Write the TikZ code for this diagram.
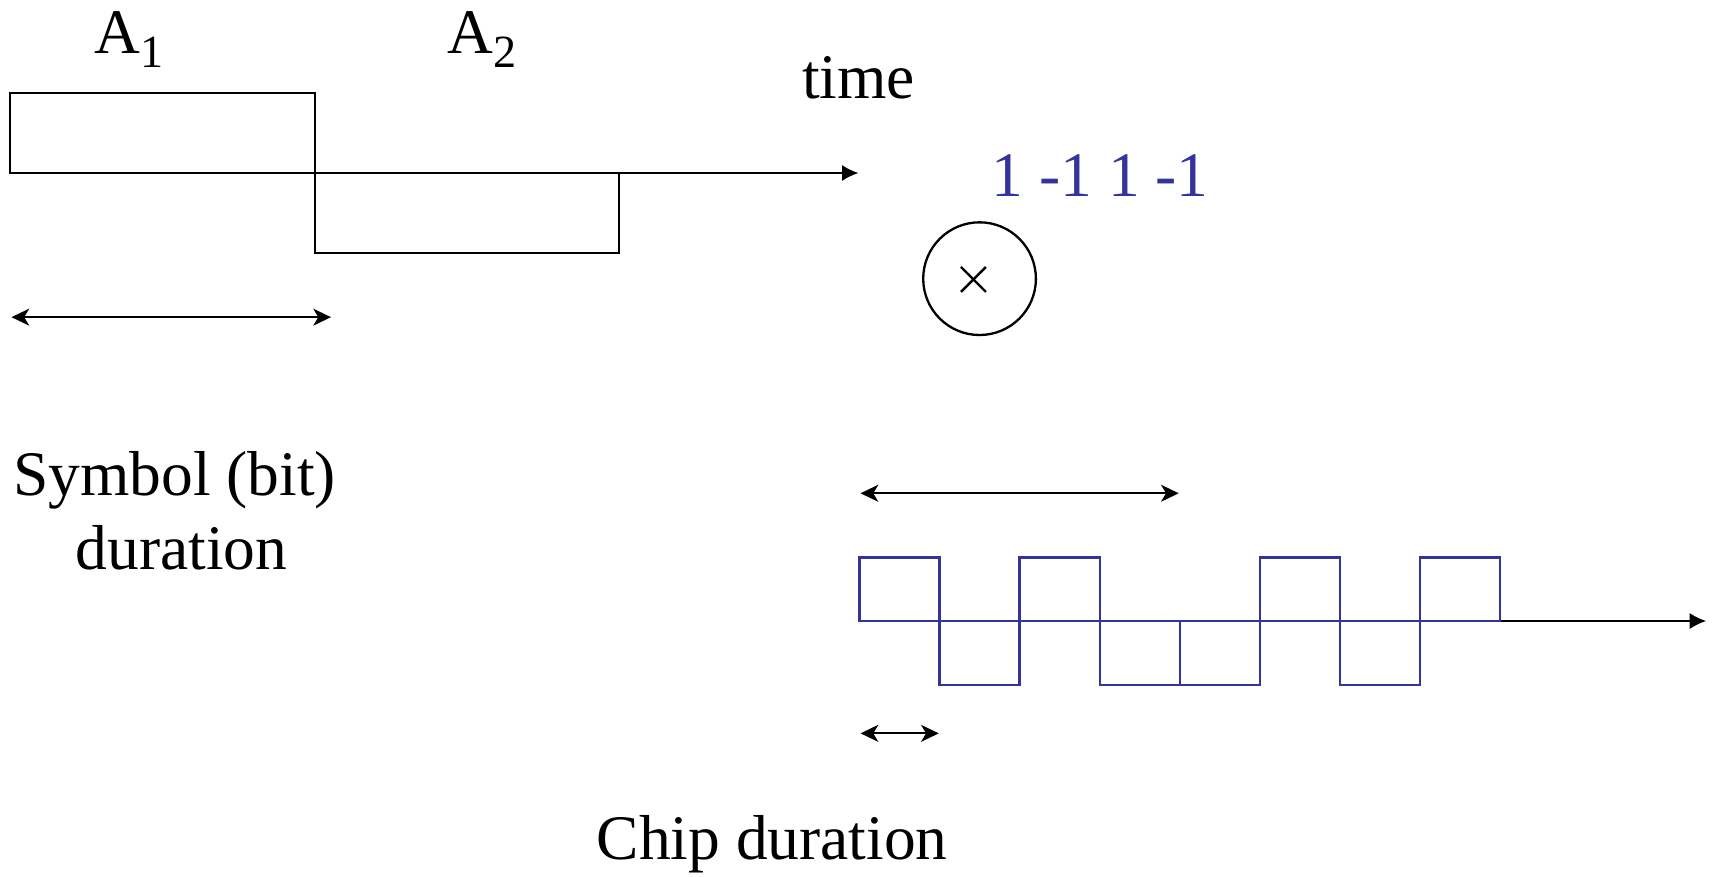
\documentclass[tikz,border=0pt]{standalone}
\usepackage{fontspec}
\setmainfont{Liberation Serif}
\usetikzlibrary{arrows.meta,calc}
\definecolor{chipblue}{RGB}{51,51,153}
\newcommand{\lowsub}[1]{\raisebox{-3.7pt}{\fontsize{12}{12}\selectfont #1}}
\tikzset{
  sig/.style={line width=0.55pt, draw=black},
  chipbox/.style={line width=0.6pt, draw=chipblue},
  axisarrow/.style={line width=0.55pt, -{Latex[length=4.3pt,width=4.2pt]}},
  spanarrow/.style={line width=0.55pt, {Stealth[length=4.6pt,width=4.4pt,inset=1.3pt]}-{Stealth[length=4.6pt,width=4.4pt,inset=1.3pt]}},
  lbl/.style={font=\fontsize{16.5}{19.8}\selectfont, inner sep=0pt, outer sep=0pt},
}
\begin{document}
\begin{tikzpicture}[x=0.01cm,y=-0.01cm]
\useasboundingbox (0,0) rectangle (1568,801);

% top signal
\coordinate (s0) at (9.4,158.2);
\coordinate (s1) at (288,158.2);
\coordinate (s2) at (565.8,158.2);
\coordinate (taxisend) at (785,158.2);
\draw[axisarrow] (s0) -- (taxisend);
\draw[sig] (s0) rectangle (288,85.3);
\draw[sig] (s1) rectangle (565.8,231.6);

\node[lbl, anchor=base west] (a1) at (86.6,49) {A\lowsub{1}};
\node[lbl, anchor=base west] (a2) at (409,49) {A\lowsub{2}};
\node[lbl, anchor=base] (time) at (785,90.5) {time};

% symbol duration
\coordinate (sdl) at (10.5,290);
\coordinate (sdr) at (302.6,290);
\draw[spanarrow] (sdl) -- (sdr);
\node[lbl, anchor=base] (sym1) at (159.6,452.6) {Symbol (bit)};
\node[lbl, anchor=base] (sym2) at (166,521) {duration};

% code and multiplier
\node[lbl, anchor=base, text=chipblue] (code) at (1006,180) {1 -1 1 -1};
\node[circle, draw, line width=0.6pt, minimum size=29.3pt, inner sep=0pt] (mult) at (895.6,254.8) {};
\draw[line width=0.6pt] ($(mult.center)+(-17,-10.7)$) -- ($(mult.center)+(5.8,12.1)$);
\draw[line width=0.6pt] ($(mult.center)+(-17,12.1)$) -- ($(mult.center)+(5.8,-10.7)$);

% chip signal
\coordinate (c0) at (785.8,567.8);
\coordinate (caxisend) at (1560,567.8);
\draw[axisarrow] (c0) -- (caxisend);
\foreach \v [count=\i from 0] in {1,-1,1,-1,-1,1,-1,1}
  \draw[chipbox] (785.8+73.2*\i,567.8) rectangle ++(73.2,-58.2*\v);

\coordinate (bdl) at (786.8,451);
\coordinate (bdr) at (1077.7,451);
\draw[spanarrow] (bdl) -- (bdr);
\coordinate (cdl) at (786.8,670.5);
\coordinate (cdr) at (858.3,670.5);
\draw[spanarrow] (cdl) -- (cdr);
\node[lbl, anchor=base] (chipdur) at (706,786) {Chip duration};
\end{tikzpicture}
\end{document}
